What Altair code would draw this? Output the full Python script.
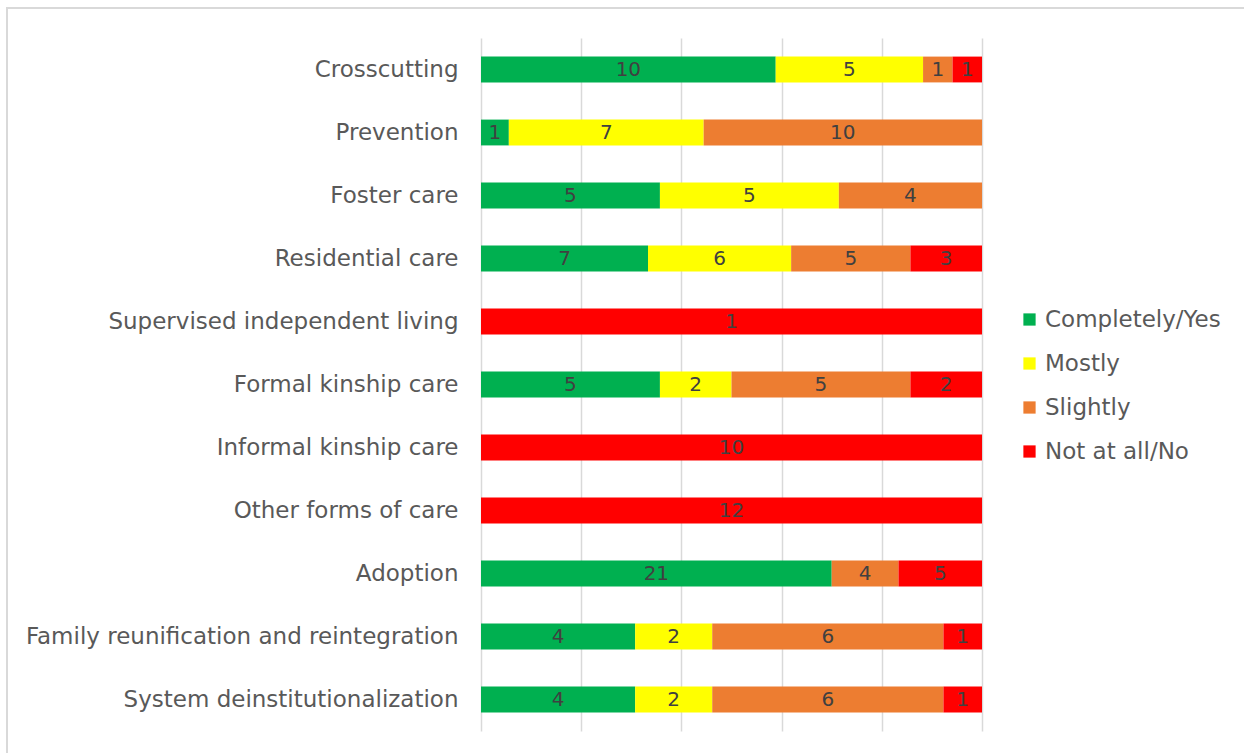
import altair as alt
import pandas as pd

# Care areas, top to bottom
areas = [
    "Crosscutting",
    "Prevention",
    "Foster care",
    "Residential care",
    "Supervised independent living",
    "Formal kinship care",
    "Informal kinship care",
    "Other forms of care",
    "Adoption",
    "Family reunification and reintegration",
    "System deinstitutionalization",
]

# Response counts per area
completely_yes = [10, 1, 5, 7, 0, 5, 0, 0, 21, 4, 4]
mostly = [5, 7, 5, 6, 0, 2, 0, 0, 0, 2, 2]
slightly = [1, 10, 4, 5, 0, 5, 0, 0, 4, 6, 6]
not_at_all_no = [1, 0, 0, 3, 1, 2, 10, 12, 5, 1, 1]

responses = ["Completely/Yes", "Mostly", "Slightly", "Not at all/No"]
colors = ["#00B050", "#FFFF00", "#ED7D31", "#FF0000"]

series = [completely_yes, mostly, slightly, not_at_all_no]
rows = []
for r, (name, vals) in enumerate(zip(responses, series)):
    for area, v in zip(areas, vals):
        if v > 0:
            rows.append({"area": area, "response": name, "rank": r, "count": v})
df = pd.DataFrame(rows)

FONT = "DejaVu Sans"

x_scale = alt.Scale(domain=[0, 1], nice=False)
y_enc = alt.Y(
    "area:N",
    sort=areas,
    scale=alt.Scale(paddingInner=0.59, paddingOuter=0.295),
    axis=alt.Axis(
        title=None,
        ticks=False,
        domain=False,
        labelPadding=23,
        labelFontSize=23,
        labelFont=FONT,
        labelColor="#595959",
        labelLimit=600,
    ),
)

base = alt.Chart(df)

bars = base.mark_bar().encode(
    x=alt.X(
        "count:Q",
        stack="normalize",
        scale=x_scale,
        axis=alt.Axis(
            title=None,
            labels=False,
            ticks=False,
            domain=False,
            grid=True,
            gridColor="#D9D9D9",
            gridWidth=1.5,
            values=[0, 0.2, 0.4, 0.6, 0.8, 1.0],
        ),
    ),
    y=y_enc,
    color=alt.Color(
        "response:N",
        sort=responses,
        scale=alt.Scale(domain=responses, range=colors),
        legend=alt.Legend(
            title=None,
            orient="none",
            legendX=537,
            legendY=270,
            symbolType="square",
            symbolSize=150,
            symbolStrokeWidth=0,
            labelFontSize=23,
            labelFont=FONT,
            labelColor="#595959",
            labelOffset=4,
            labelLimit=400,
            rowPadding=20,
        ),
    ),
    order=alt.Order("rank:Q"),
)

# Segment midpoints for the count labels
labels = (
    base.transform_joinaggregate(total="sum(count)", groupby=["area"])
    .transform_window(
        cum="sum(count)",
        sort=[alt.SortField("rank")],
        groupby=["area"],
        frame=[None, 0],
    )
    .transform_calculate(mid="(datum.cum - datum.count / 2) / datum.total")
    .mark_text(font=FONT, fontSize=20, color="#404040")
    .encode(
        x=alt.X("mid:Q", scale=x_scale),
        y=alt.Y("area:N", sort=areas),
        text="count:Q",
    )
)

# Light frame around the whole figure
frame = (
    alt.Chart(alt.Data(values=[{"f": 1}]))
    .mark_rect(fill="transparent", stroke="#D9D9D9", strokeWidth=2)
    .encode(
        x=alt.value(-474),
        x2=alt.value(800),
        y=alt.value(-30),
        y2=alt.value(740),
    )
)

chart = (
    alt.layer(frame, bars, labels)
    .properties(
        width=501,
        height=693,
        background="white",
        autosize=alt.AutoSizeParams(type="none"),
        padding={"left": 481, "top": 38, "right": 262, "bottom": 22},
    )
    .configure_view(strokeWidth=0, stroke="transparent")
)

chart.save("out.html", embed_options={"renderer": "svg", "actions": False})
